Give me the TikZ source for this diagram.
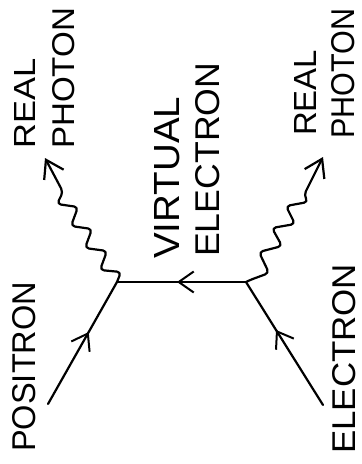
\documentclass[tikz,border=0pt]{standalone}
\usepackage{fontspec}
\setmainfont{Liberation Sans}
\usetikzlibrary{arrows.meta,decorations.markings}
\newcommand{\fitlbl}[3]{\resizebox{#1pt}{#2pt}{#3}}
\begin{document}
\begin{tikzpicture}[x=1pt,y=-1pt,
  line/.style={line width=2.2pt, line cap=round, line join=round},
  fermion/.style={line, postaction={decorate},
    decoration={markings, mark=at position #1 with {\arrow[line width=2pt]{Straight Barb[length=15pt,width=21pt]}}}},
  photon/.style={line, rounded corners=4pt, -{Straight Barb[length=17pt,width=22pt]}},
  lab/.style={inner sep=0pt, anchor=base west, rotate=90}]
\useasboundingbox (0,0) rectangle (362,464);
\fill[white] (0,0) rectangle (362,464);
% vertices and free ends
\coordinate (v1) at (117,282);
\coordinate (v2) at (246,282);
\coordinate (p0) at (48,404);
\coordinate (e0) at (323,405);
\coordinate (g1) at (45,158);
\coordinate (g2) at (323,157);
% fermion lines
\draw[fermion=0.59] (p0) -- (v1);
\draw[fermion=0.61] (e0) -- (v2);
\draw[fermion=0.535] (v2) -- (v1);
% photons
\draw[photon] (v1) -- (121,272) -- (100,270) -- (107,251) -- (85,248) -- (92,229)
  -- (71,226) -- (78,207) -- (57,204) -- (63,192) -- (g1);
\draw[photon] (v2) -- (250,280) -- (269,273) -- (259,252) -- (282,246) -- (272,228)
  -- (295,224) -- (286,206) -- (308,202) -- (304,195) -- (g2);
% labels
\node[lab] (real1) at (35,149) {\fitlbl{90}{21}{REAL}};
\node[lab] (phot1) at (74,149) {\fitlbl{141}{22}{PHOTON}};
\node[lab] (virt) at (179,259) {\fitlbl{162}{25}{VIRTUAL}};
\node[lab] (elec1) at (219,257) {\fitlbl{194}{24}{ELECTRON}};
\node[lab] (real2) at (316,136) {\fitlbl{86}{22}{REAL}};
\node[lab] (phot2) at (354,139) {\fitlbl{130}{23}{PHOTON}};
\node[lab] (posi) at (35,452) {\fitlbl{170}{23}{POSITRON}};
\node[lab] (elec2) at (355,454) {\fitlbl{190}{23}{ELECTRON}};
\end{tikzpicture}
\end{document}
